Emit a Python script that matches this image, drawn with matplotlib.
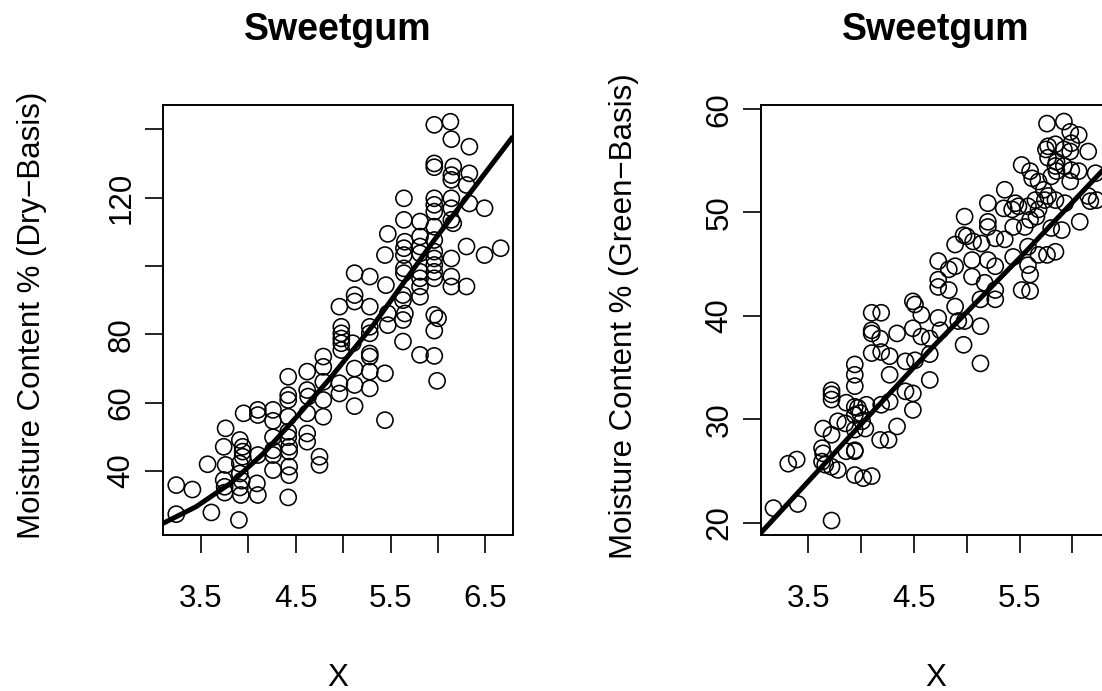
import matplotlib
matplotlib.use("Agg")
import matplotlib.pyplot as plt

# 干基含水率 (左图)
dry_x = [
    5.96, 6.13, 6.14, 6.33, 5.96, 5.96, 6.16, 6.14, 6.14, 6.33, 6.30,
    5.64, 5.96, 5.96, 6.14, 6.14, 6.33, 6.49, 5.96, 5.64, 5.81, 5.96, 6.16, 6.14,
    5.47, 5.81, 5.96, 5.65, 6.30, 6.49, 6.66, 5.44, 5.64, 5.64, 5.81, 5.81, 5.96, 5.96, 6.14,
    5.12, 5.28, 5.45, 5.64, 5.64, 5.81, 5.81, 5.81, 5.96, 5.96, 5.96, 6.14, 6.14, 6.30,
    5.12, 5.12, 4.96, 5.28, 5.63, 5.63, 5.81, 5.65, 5.47, 5.96, 6.00, 5.96,
    4.98, 4.98, 4.98, 4.98, 4.98, 5.10, 5.28, 5.28, 5.28, 5.28, 5.47, 5.63, 5.63, 5.81, 5.96, 5.99,
    4.96, 4.96, 5.12, 5.12, 5.12, 5.28, 5.28, 5.44, 5.44,
    3.24, 3.24, 3.41, 3.61, 3.90, 3.57, 3.74, 3.76, 3.76, 3.74, 3.75, 3.75,
    3.91, 3.94, 3.94, 3.94, 3.91, 3.91, 3.93, 3.91, 3.92, 3.95, 4.10, 4.10, 4.09, 4.10, 4.10,
    4.26, 4.26, 4.26, 4.26, 4.26, 4.26, 4.42, 4.42, 4.42, 4.42, 4.42, 4.42, 4.43, 4.43, 4.43, 4.43, 4.42,
    4.62, 4.62, 4.63, 4.62, 4.62, 4.62, 4.75, 4.75, 4.79, 4.79, 4.79, 4.79, 4.79,
]
dry_y = [
    141.3, 142.2, 137.1, 134.9, 130.0, 128.9, 129.1, 126.6, 125.2, 127.1, 123.7,
    119.8, 119.8, 117.9, 119.8, 116.9, 118.3, 116.9, 115.9, 113.5, 113.0, 111.5, 112.5, 113.5,
    109.4, 108.6, 107.6, 107.1, 105.7, 103.2, 105.2, 103.2, 105.2, 103.2, 105.7, 103.7, 104.2, 102.2, 102.2,
    97.9, 96.9, 94.4, 99.3, 97.9, 98.3, 96.4, 94.0, 100.3, 98.3, 96.4, 96.9, 94.0, 94.0,
    91.5, 89.6, 88.1, 88.1, 91.5, 90.0, 91.0, 86.1, 86.1, 85.7, 84.7, 81.1,
    82.2, 80.3, 78.8, 77.4, 75.4, 77.4, 82.2, 80.3, 74.4, 73.5, 82.7, 84.2, 77.9, 74.0, 73.7, 66.4,
    65.7, 62.7, 70.0, 65.2, 59.0, 69.1, 64.2, 68.6, 54.9,
    27.4, 35.9, 34.6, 27.9, 25.7, 42.0, 47.1, 52.5, 41.8, 37.4, 35.4, 33.7,
    49.1, 47.1, 45.7, 44.2, 42.2, 39.3, 37.2, 35.2, 33.0, 56.9, 57.9, 56.4, 36.4, 33.0, 44.7,
    57.9, 54.7, 49.9, 46.1, 44.7, 40.3, 67.6, 62.2, 60.8, 55.9, 51.5, 49.9, 47.1, 45.7, 41.3, 38.8, 32.3,
    69.1, 63.7, 61.8, 56.9, 51.0, 48.6, 44.2, 41.8, 73.5, 70.5, 66.1, 60.8, 55.9,
]
dry_fit_x = [3.10, 3.45, 3.81, 4.16, 4.51, 4.86, 5.33, 5.96, 6.79]
dry_fit_y = [24.7, 29.6, 36.4, 45.2, 55.9, 67.1, 83.2, 107.6, 137.9]

# 湿基含水率 (右图)
green_x = [
    5.76, 5.92, 5.98, 6.06, 5.99, 5.77, 5.75, 5.84, 5.92, 5.98, 6.15, 5.77, 5.85, 5.92, 5.84,
    5.85, 5.80, 5.99, 6.06, 6.22, 5.98, 5.52, 5.60, 5.62, 5.68, 5.73, 5.77, 5.74, 5.84, 5.93,
    6.15, 6.17, 6.23, 5.36, 5.20, 5.35, 5.46, 5.43, 5.49, 5.58, 5.65, 5.68, 5.66, 5.60, 5.55,
    5.44, 5.20, 5.20, 4.98, 4.97, 4.89, 5.00, 5.06, 5.14, 5.27, 5.36, 5.44, 5.58, 5.68, 5.76,
    5.84, 5.80, 5.90, 6.07, 5.20, 5.27, 5.05, 4.89, 4.83, 4.73, 4.73, 4.73, 4.83, 5.05, 5.17,
    5.27, 5.13, 5.27, 5.52, 5.60, 5.60, 5.58,
    4.49, 4.51, 4.57, 4.73, 4.75, 4.89, 4.92, 4.98, 5.13, 4.97, 5.13,
    4.10, 4.19, 4.10, 4.10, 4.18, 4.34, 4.49, 4.57, 4.65, 4.10, 4.19, 4.27, 4.42, 4.51, 4.65,
    4.65, 4.27, 4.42, 4.49, 4.49, 4.34,
    3.94, 3.94, 3.94, 3.72, 3.72, 3.72, 3.86, 3.78, 3.85, 3.94, 3.97, 3.99, 3.94, 4.05, 4.19,
    4.27, 3.94, 4.04, 4.01,
    3.64, 3.72, 3.63, 3.64, 3.63, 3.66, 3.72, 3.78, 3.86, 3.94, 3.94, 3.94, 4.02, 4.10, 4.18,
    4.26, 3.31, 3.39, 3.17, 3.40, 3.72,
]
green_y = [
    58.6, 58.8, 57.8, 57.5, 56.7, 56.4, 56.1, 56.6, 56.1, 55.9, 55.9, 55.3, 54.9, 54.5, 54.5,
    54.0, 53.5, 54.1, 54.0, 53.8, 53.0, 54.6, 54.0, 53.3, 53.0, 52.2, 51.6, 51.2, 51.2, 50.9,
    51.6, 51.1, 51.2, 52.2, 50.9, 50.4, 50.9, 50.3, 50.6, 50.6, 51.2, 50.3, 49.6, 49.3, 48.6,
    48.6, 49.1, 48.6, 49.6, 47.8, 46.9, 47.7, 47.2, 47.0, 47.5, 47.4, 45.7, 46.7, 45.9, 45.9,
    46.2, 48.5, 48.3, 49.1, 45.4, 44.8, 45.4, 44.8, 44.5, 45.3, 43.5, 42.8, 42.5, 43.8, 43.2,
    42.5, 41.6, 41.6, 42.5, 42.4, 44.0, 44.9,
    41.4, 41.1, 40.1, 39.8, 38.6, 40.9, 39.5, 39.5, 39.0, 37.2, 35.4,
    40.3, 40.3, 38.6, 38.3, 37.8, 38.3, 38.8, 38.0, 37.8, 36.4, 36.5, 36.1, 35.6, 35.7, 36.3,
    33.8, 34.3, 32.7, 32.5, 30.9, 29.3,
    35.3, 34.3, 33.2, 32.8, 32.4, 31.9, 31.6, 29.8, 29.6, 31.2, 31.1, 30.6, 30.4, 31.4, 31.4,
    31.7, 29.0, 29.1, 29.8,
    29.1, 28.5, 27.2, 26.7, 25.9, 25.6, 25.4, 25.1, 26.9, 27.0, 26.9, 24.6, 24.3, 24.5, 28.0,
    28.0, 25.7, 26.1, 21.4, 21.8, 20.2,
]
green_fit_x = [3.05, 3.88, 4.68, 5.52, 6.28, 6.40]
green_fit_y = [19.0, 28.2, 37.0, 45.8, 54.0, 55.2]

X_TICKS = [3.5, 4.0, 4.5, 5.0, 5.5, 6.0, 6.5]
X_LABELS = ["3.5", "", "4.5", "", "5.5", "", "6.5"]
DRY_TICKS = [40, 60, 80, 100, 120, 140]
DRY_LABELS = ["40", "60", "80", "", "120", ""]
GREEN_TICKS = [20, 30, 40, 50, 60]
GREEN_LABELS = ["20", "30", "40", "50", "60"]

plt.rcParams["font.family"] = ["Liberation Sans", "DejaVu Sans"]


def draw_panel(ax, x, y, fit_x, fit_y, yticks, ylabels, ylabel):
    """R 风格的散点 + 拟合曲线"""
    ax.scatter(x, y, s=135, facecolors="none", edgecolors="black", linewidths=1.15, zorder=2)
    ax.plot(fit_x, fit_y, color="black", lw=3.6, solid_capstyle="butt", zorder=3)
    ax.set_xticks(X_TICKS)
    ax.set_xticklabels(X_LABELS)
    ax.set_yticks(yticks)
    ax.set_yticklabels(ylabels, rotation=90, va="center")
    ax.tick_params(direction="out", length=13, width=1.2, labelsize=22.5, color="black")
    ax.tick_params(axis="x", pad=22)
    ax.tick_params(axis="y", pad=6)
    for sp in ax.spines.values():
        sp.set_linewidth(1.4)
    ax.set_title("Sweetgum", fontsize=27, fontweight="bold", pad=47)
    ax.set_xlabel("X", fontsize=22.5, va="center")
    ax.xaxis.set_label_coords(0.5, -0.333)
    ax.set_ylabel(ylabel, fontsize=22.5, va="center")


fig = plt.figure(figsize=(11.02, 6.91), dpi=100)
ax1 = fig.add_axes([163 / 1102, 156 / 691, 350 / 1102, 430 / 691])
ax2 = fig.add_axes([761 / 1102, 156 / 691, 350 / 1102, 430 / 691])

draw_panel(ax1, dry_x, dry_y, dry_fit_x, dry_fit_y, DRY_TICKS, DRY_LABELS,
           "Moisture Content % (Dry\u2212Basis)")
ax1.set_xlim(3.10, 6.79)
ax1.set_ylim(21.3, 147.1)
ax1.yaxis.set_label_coords(-0.375, 0.51)

draw_panel(ax2, green_x, green_y, green_fit_x, green_fit_y, GREEN_TICKS, GREEN_LABELS,
           "Moisture Content % (Green\u2212Basis)")
ax2.set_xlim(3.052, 6.366)
ax2.set_ylim(18.8, 60.4)
ax2.yaxis.set_label_coords(-0.392, 0.51)

fig.savefig("out.png", dpi=100, facecolor="white")
plt.close(fig)
